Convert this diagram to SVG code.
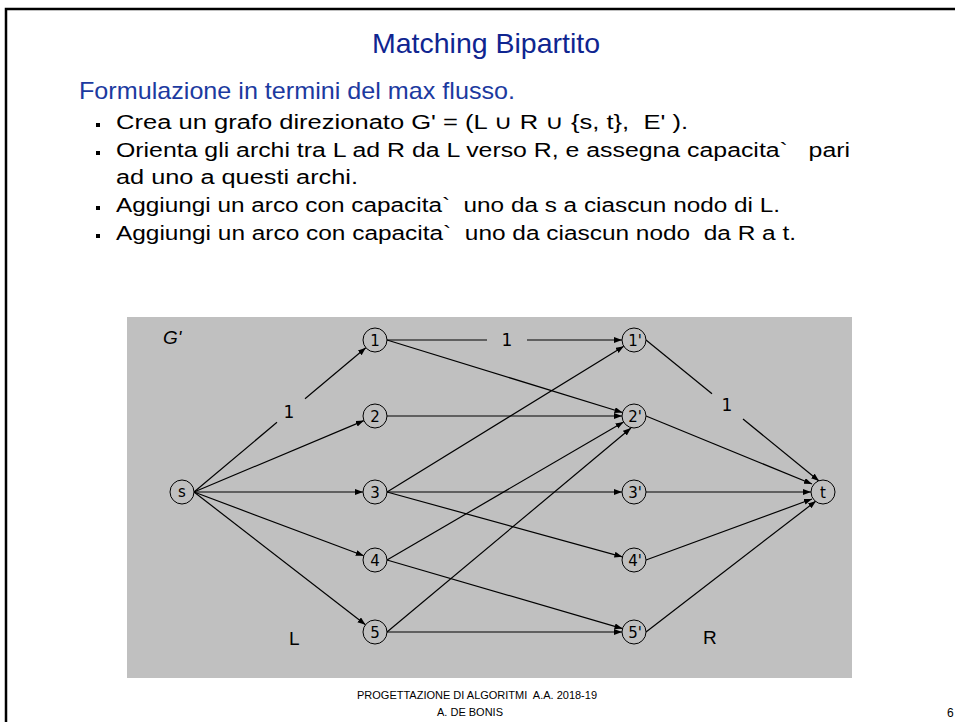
<svg xmlns="http://www.w3.org/2000/svg" width="955" height="722" viewBox="0 0 955 722">
<style>
.txt{font-family:"Comic Sans MS","Liberation Sans","DejaVu Sans",sans-serif;white-space:pre}
.body{font-size:20px;fill:#000}
.node circle{fill:#c0c0c0;stroke:#000;stroke-width:1}
.node text{font-family:"DejaVu Sans","Liberation Sans",sans-serif;font-size:15px;fill:#000;text-anchor:middle}
.edges line{stroke:#000;stroke-width:1.2}
.arr{marker-end:url(#ah)}
.lbl{font-family:"DejaVu Sans","Liberation Sans",sans-serif;font-size:17px;fill:#000;text-anchor:middle}
</style>
<defs>
<marker id="ah" markerUnits="userSpaceOnUse" markerWidth="9" markerHeight="7" refX="8" refY="3" orient="auto">
<path d="M0,0 L8,3 L0,6 z" fill="#000"/>
</marker>
</defs>
<rect x="0" y="0" width="955" height="722" fill="#fff"/>
<path d="M6,722 L6,9 L955,9" fill="none" stroke="#000" stroke-width="2.5"/>

<text class="txt" x="372" y="53" font-size="28" fill="#0f2590" textLength="228" lengthAdjust="spacingAndGlyphs">Matching Bipartito</text>
<text class="txt" x="79" y="99" font-size="24" fill="#1c3aa0" textLength="436" lengthAdjust="spacingAndGlyphs">Formulazione in termini del max flusso.</text>

<g id="bullets">
<rect x="96" y="123" width="4" height="4"/>
<rect x="96" y="151" width="4" height="4"/>
<rect x="96" y="206" width="4" height="4"/>
<rect x="96" y="234" width="4" height="4"/>
</g>
<text class="txt body" x="116" y="129" textLength="572" lengthAdjust="spacingAndGlyphs">Crea un grafo direzionato G' = (L ∪ R ∪ {s, t},  E' ).</text>
<text class="txt body" x="116" y="157" textLength="734" lengthAdjust="spacingAndGlyphs">Orienta gli archi tra L ad R da L verso R, e assegna capacita`   pari</text>
<text class="txt body" x="116" y="184" textLength="242" lengthAdjust="spacingAndGlyphs">ad uno a questi archi.</text>
<text class="txt body" x="116" y="212" textLength="664" lengthAdjust="spacingAndGlyphs">Aggiungi un arco con capacita`  uno da s a ciascun nodo di L.</text>
<text class="txt body" x="116" y="240" textLength="680" lengthAdjust="spacingAndGlyphs">Aggiungi un arco con capacita`  uno da ciascun nodo  da R a t.</text>

<rect x="127" y="317" width="725" height="361" fill="#c0c0c0"/>
<text class="txt" x="163" y="344" font-size="19" font-style="italic" fill="#000">G'</text>
<text class="txt" x="289" y="645" font-size="19" fill="#000">L</text>
<text class="txt" x="703" y="644" font-size="19" fill="#000">R</text>

<g id="connectors" class="edges">
<line x1="194" y1="492" x2="277" y2="422.3"/>
<line class="arr" x1="305" y1="398.8" x2="365.8" y2="347.7"/>
<line class="arr" x1="194" y1="492" x2="363.9" y2="420.6"/>
<line class="arr" x1="194" y1="492" x2="363" y2="492"/>
<line class="arr" x1="194" y1="492" x2="363.8" y2="555.8"/>
<line class="arr" x1="194" y1="492" x2="365.5" y2="624.7"/>

<line x1="387" y1="340" x2="487" y2="340"/>
<line class="arr" x1="527" y1="340" x2="622" y2="340"/>
<line class="arr" x1="387" y1="340" x2="622.5" y2="412.5"/>
<line class="arr" x1="387" y1="416" x2="622" y2="416"/>
<line class="arr" x1="387" y1="492" x2="623.8" y2="346.3"/>
<line class="arr" x1="387" y1="492" x2="622" y2="492"/>
<line class="arr" x1="387" y1="492" x2="622.4" y2="556.8"/>
<line class="arr" x1="387" y1="560" x2="623.6" y2="422"/>
<line class="arr" x1="387" y1="560" x2="622.5" y2="628.6"/>
<line class="arr" x1="387" y1="632" x2="631" y2="428"/>
<line class="arr" x1="387" y1="632" x2="622" y2="632"/>

<line x1="646" y1="340" x2="712" y2="393.8"/>
<line class="arr" x1="743" y1="419" x2="819" y2="481"/>
<line class="arr" x1="646" y1="416" x2="812" y2="484"/>
<line class="arr" x1="646" y1="492" x2="811" y2="492"/>
<line class="arr" x1="646" y1="560" x2="812" y2="499"/>
<line class="arr" x1="646" y1="632" x2="816" y2="501"/>

<text class="lbl" x="289" y="418">1</text>
<text class="lbl" x="507" y="346">1</text>
<text class="lbl" x="727" y="411">1</text>
</g>

<g id="n-s" class="node"><circle cx="182" cy="492" r="12"/><text x="182" y="497">s</text></g>
<g id="n-1" class="node"><circle cx="375" cy="340" r="12"/><text x="375" y="345.5">1</text></g>
<g id="n-2" class="node"><circle cx="375" cy="416" r="12"/><text x="375" y="421.5">2</text></g>
<g id="n-3" class="node"><circle cx="375" cy="492" r="12"/><text x="375" y="497.5">3</text></g>
<g id="n-4" class="node"><circle cx="375" cy="560" r="12"/><text x="375" y="565.5">4</text></g>
<g id="n-5" class="node"><circle cx="375" cy="632" r="12"/><text x="375" y="637.5">5</text></g>
<g id="n-1p" class="node"><circle cx="634" cy="340" r="12"/><text x="635" y="345.5">1'</text></g>
<g id="n-2p" class="node"><circle cx="634" cy="416" r="12"/><text x="635" y="421.5">2'</text></g>
<g id="n-3p" class="node"><circle cx="634" cy="492" r="12"/><text x="635" y="497.5">3'</text></g>
<g id="n-4p" class="node"><circle cx="634" cy="560" r="12"/><text x="635" y="565.5">4'</text></g>
<g id="n-5p" class="node"><circle cx="634" cy="632" r="12"/><text x="635" y="637.5">5'</text></g>
<g id="n-t" class="node"><circle cx="823" cy="492" r="12"/><text x="823" y="497.5">t</text></g>

<text class="txt" x="477" y="699" font-size="11" fill="#000" text-anchor="middle">PROGETTAZIONE DI ALGORITMI  A.A. 2018-19</text>
<text class="txt" x="470" y="716" font-size="11" fill="#000" text-anchor="middle">A. DE BONIS</text>
<text class="txt" x="947" y="717" font-size="12" fill="#000">6</text>
</svg>
